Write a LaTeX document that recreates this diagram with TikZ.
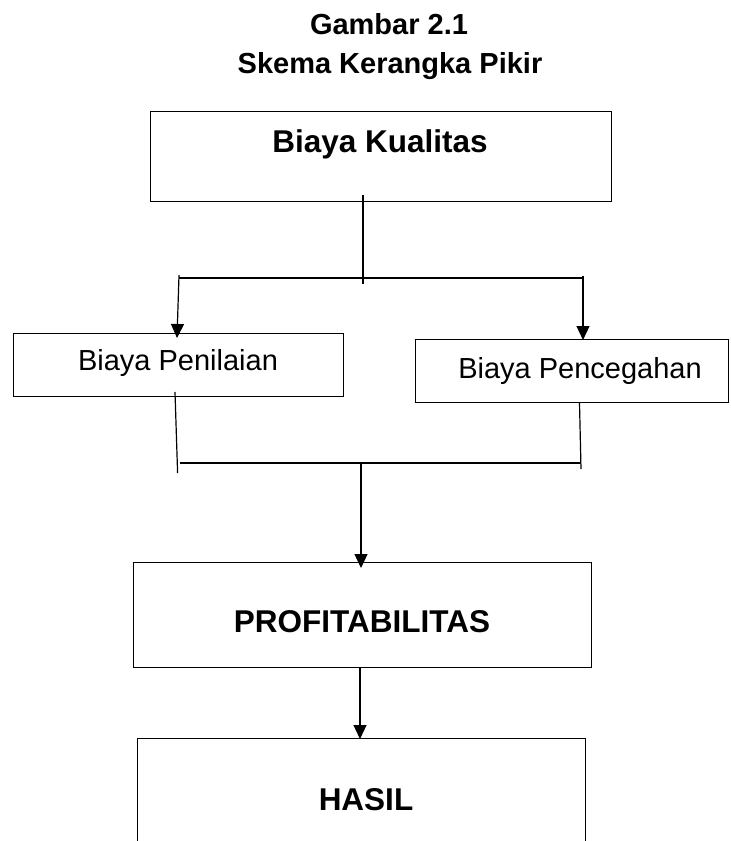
\documentclass[tikz,border=0pt]{standalone}
\usepackage{fontspec}
\setmainfont{Liberation Sans}
\usetikzlibrary{arrows.meta}
\begin{document}
\begin{tikzpicture}[x=1pt,y=-1pt,
  box/.style={draw, line width=1.2pt, inner sep=0pt, rectangle, anchor=north west},
  lbl/.style={anchor=base, inner sep=0pt},
  bigb/.style={lbl, font=\fontsize{31.5}{36}\selectfont\bfseries},
  ttl/.style={lbl, font=\fontsize{29}{34}\selectfont\bfseries},
  reg/.style={lbl, font=\fontsize{29}{34}\selectfont},
  ln/.style={line width=1.2pt},
  arr/.style={ln, -{Triangle[length=14pt,width=13pt]}}]
\useasboundingbox (0,0) rectangle (731,841);
\clip (0,0) rectangle (731,841);

% title
\node[ttl] (g1) at (389,34) {Gambar 2.1};
\node[ttl] (g2) at (390,73) {Skema Kerangka Pikir};

% boxes
\node[box, minimum width=461pt, minimum height=90pt] (kb) at (150,111) {};
\node[box, minimum width=330pt, minimum height=63pt] (pn) at (13,333) {};
\node[box, minimum width=313pt, minimum height=63pt] (pc) at (415,339) {};
\node[box, minimum width=458pt, minimum height=105pt] (pr) at (133,562) {};
\node[box, minimum width=448pt, minimum height=130pt] (hs) at (137,738) {};

% texts
\node[bigb] (tkb) at (380,152.7) {Biaya Kualitas};
\node[reg] (tpn) at (178,370.7) {Biaya Penilaian};
\node[reg] (tpc) at (580,378) {Biaya Pencegahan};
\node[bigb] (tpr) at (362,632.7) {PROFITABILITAS};
\node[bigb] (ths) at (366,810) {HASIL};

% connector points
\coordinate (t1) at (363,195);
\coordinate (t2) at (363,284);
\coordinate (hl) at (179,278);
\coordinate (hr) at (583,278);
\coordinate (al) at (179,275);
\coordinate (ale) at (177,338);
\coordinate (ar) at (583,276);
\coordinate (are) at (583,340);
\coordinate (l1) at (175,392);
\coordinate (l2) at (177.6,473);
\coordinate (r1) at (579.5,403);
\coordinate (r2) at (581,469);
\coordinate (bl) at (179.5,463);
\coordinate (br) at (581,463);
\coordinate (m1) at (361,463);
\coordinate (m2) at (361,568);
\coordinate (p1) at (360,667);
\coordinate (p2) at (360,739);

\draw[ln] (t1) -- (t2);
\draw[ln] (hl) -- (hr);
\draw[arr] (al) -- (ale);
\draw[arr] (ar) -- (are);
\draw[ln] (l1) -- (l2);
\draw[ln] (r1) -- (r2);
\draw[ln] (bl) -- (br);
\draw[arr] (m1) -- (m2);
\draw[arr] (p1) -- (p2);
\end{tikzpicture}
\end{document}
